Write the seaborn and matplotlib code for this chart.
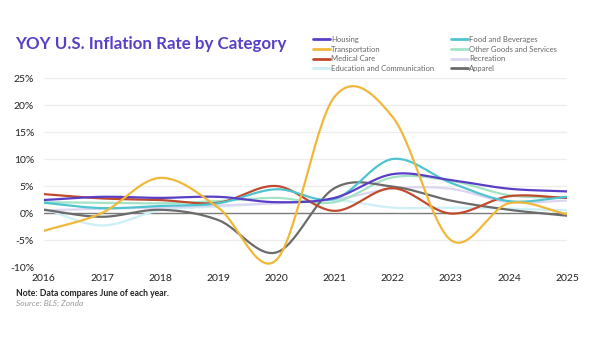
import numpy as np
import pandas as pd
import matplotlib
matplotlib.use("Agg")
import matplotlib.pyplot as plt
import seaborn as sns
from matplotlib.ticker import FuncFormatter
from matplotlib.lines import Line2D

years = [2016, 2017, 2018, 2019, 2020, 2021, 2022, 2023, 2024, 2025]

housing        = [2.4, 3.0, 2.8, 3.0, 2.0, 2.8, 7.2, 6.1, 4.5, 4.0]
food_bev       = [1.9, 0.9, 1.3, 1.8, 4.4, 2.6, 10.0, 5.6, 2.2, 3.0]
transportation = [-3.3, 0.0, 6.5, 1.0, -8.7, 21.5, 17.8, -5.0, 1.8, -0.2]
other_goods    = [2.0, 1.9, 1.8, 2.2, 2.8, 2.0, 6.6, 6.0, 3.3, 2.8]
medical        = [3.5, 2.7, 2.4, 1.9, 5.0, 0.4, 4.6, -0.1, 3.1, 2.8]
recreation     = [0.5, 0.8, 1.0, 1.4, 1.8, 2.5, 4.5, 4.5, 2.0, 2.3]
education      = [0.8, -2.3, 0.5, 1.2, 1.8, 2.4, 1.0, 1.0, 0.8, 0.5]
apparel        = [0.6, -0.7, 0.6, -1.3, -7.3, 4.6, 4.9, 2.3, 0.6, -0.5]

categories = ["Housing", "Transportation", "Medical Care", "Education and Communication",
              "Food and Beverages", "Other Goods and Services", "Recreation", "Apparel"]
series = {
    "Housing": housing,
    "Transportation": transportation,
    "Medical Care": medical,
    "Education and Communication": education,
    "Food and Beverages": food_bev,
    "Other Goods and Services": other_goods,
    "Recreation": recreation,
    "Apparel": apparel,
}
colors = {
    "Housing": "#5a3fc6",
    "Transportation": "#f0b83a",
    "Medical Care": "#bf4a2c",
    "Education and Communication": "#cdeff6",
    "Food and Beverages": "#4fc4d0",
    "Other Goods and Services": "#a2e3c6",
    "Recreation": "#dcd5f2",
    "Apparel": "#6b6b6b",
}
draw_order = ["Education and Communication", "Recreation", "Other Goods and Services",
              "Apparel", "Medical Care", "Food and Beverages", "Housing", "Transportation"]


def catmull_rom(x, y, n=30):
    x = np.asarray(x, float)
    y = np.asarray(y, float)
    m = np.zeros_like(y)
    m[1:-1] = (y[2:] - y[:-2]) / 2.0
    m[0] = y[1] - y[0]
    m[-1] = y[-1] - y[-2]
    xs, ys = [], []
    for i in range(len(x) - 1):
        t = np.linspace(0, 1, n, endpoint=(i == len(x) - 2))
        h00 = 2 * t**3 - 3 * t**2 + 1
        h10 = t**3 - 2 * t**2 + t
        h01 = -2 * t**3 + 3 * t**2
        h11 = t**3 - t**2
        xs.append(x[i] + t * (x[i + 1] - x[i]))
        ys.append(h00 * y[i] + h10 * m[i] + h01 * y[i + 1] + h11 * m[i + 1])
    return np.concatenate(xs), np.concatenate(ys)


rows = []
for cat in draw_order:
    xs, ys = catmull_rom(years, series[cat])
    rows.append(pd.DataFrame({"Year": xs, "Value": ys, "Category": cat}))
df = pd.concat(rows, ignore_index=True)

sns.set_theme(style="white")
plt.rcParams["font.family"] = ["Lato", "DejaVu Sans"]

fig = plt.figure(figsize=(6.0, 3.37), dpi=100)
ax = fig.add_axes([0.073, 0.2077, 0.872, 0.5608])

for v in [-10, -5, 5, 10, 15, 20, 25]:
    ax.axhline(v, color="#ededed", lw=0.9, zorder=0)
ax.axhline(0, color="#7a7a7a", lw=1.0, zorder=1)

sns.lineplot(data=df, x="Year", y="Value", hue="Category", hue_order=draw_order,
             palette=colors, estimator=None, sort=False, lw=1.6, ax=ax, legend=False)

ax.set_xlim(2016, 2025)
ax.set_ylim(-10, 25)
ax.set_xticks(years)
ax.set_xticklabels([str(y) for y in years])
ax.set_yticks([-10, -5, 0, 5, 10, 15, 20, 25])
ax.yaxis.set_major_formatter(FuncFormatter(lambda v, p: f"{v:.0f}%"))
ax.tick_params(axis="both", length=0, labelsize=7.5, colors="#222222")
ax.tick_params(axis="y", pad=7)
ax.tick_params(axis="x", pad=5)
ax.set_xlabel("")
ax.set_ylabel("")
for s in ax.spines.values():
    s.set_visible(False)

handles = [Line2D([0], [0], color=colors[c], lw=2) for c in categories]
fig.legend(handles, categories, loc="upper left", bbox_to_anchor=(0.515, 0.905),
           ncol=2, frameon=False, fontsize=5.5, handlelength=2.2, handletextpad=0.2,
           columnspacing=2.2, labelspacing=0.35, labelcolor="#666666", borderpad=0)

fig.text(0.025, 0.868, "YOY U.S. Inflation Rate by Category", fontsize=12.2,
         fontweight="bold", color="#5a3fc6", va="center", ha="left")
fig.text(0.027, 0.13, "Note: Data compares June of each year.", fontsize=6.2,
         fontweight="bold", color="#222222", va="center")
fig.text(0.027, 0.1, "Source: BLS; Zonda", fontsize=6.0, style="italic",
         color="#999999", va="center")

fig.savefig("out.png", dpi=100, facecolor="white")
